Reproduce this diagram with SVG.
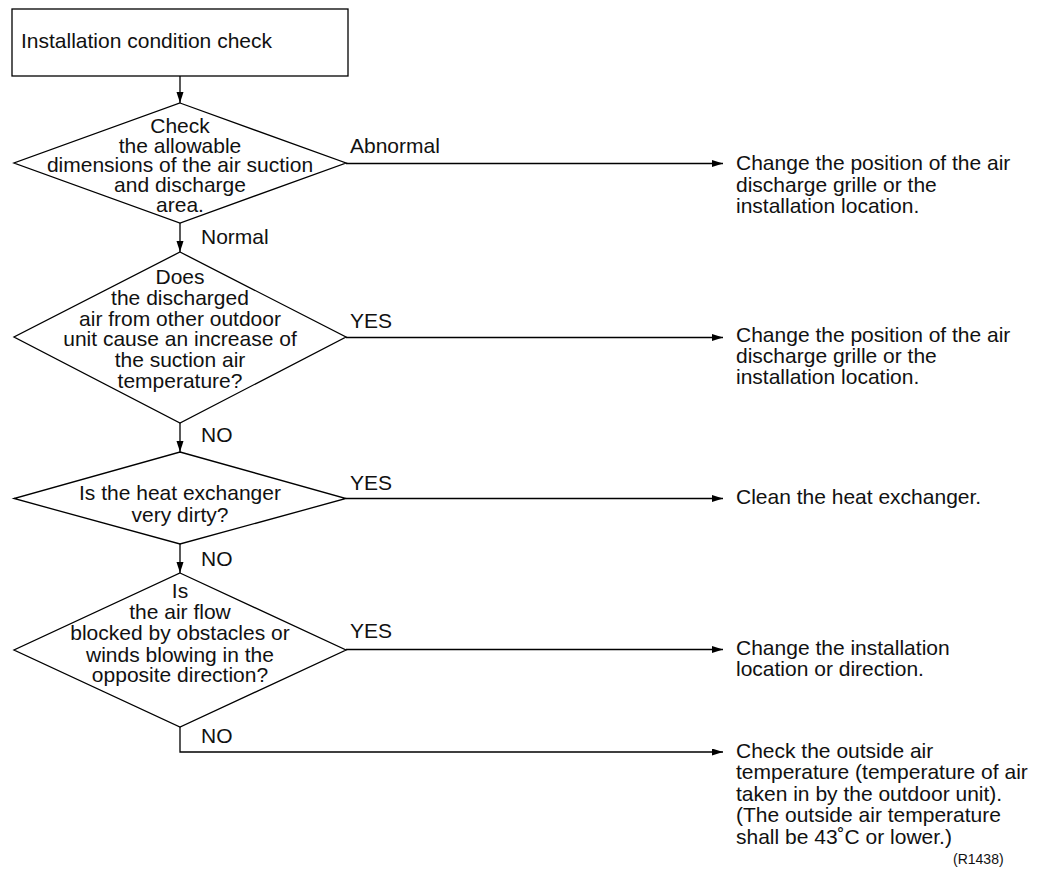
<svg xmlns="http://www.w3.org/2000/svg" width="1041" height="873" viewBox="0 0 1041 873">
<style>
.shape{fill:#fff;stroke:#000;stroke-width:1.3}
.t{font-family:"Liberation Sans",Arial,sans-serif;font-size:21px;fill:#111}
.c{text-anchor:middle}
.ln{fill:none;stroke:#000;stroke-width:1.3}
.sm{font-family:"Liberation Sans",Arial,sans-serif;font-size:14px;fill:#111}
</style>
<defs>
<marker id="ah" markerUnits="userSpaceOnUse" markerWidth="12" markerHeight="8" refX="11" refY="3.5" orient="auto">
<path d="M0,0 L11,3.5 L0,7 Z" fill="#000"/>
</marker>
</defs>
<rect width="1041" height="873" fill="#fff"/>
<g id="start">
<rect class="shape" x="12" y="9" width="336" height="67"/>
<text class="t" x="21" y="48">Installation condition check</text>
</g>
<g id="d1">
<polygon class="shape" points="180,103 346,163 180,223 14,163"/>
<text class="t c" x="180" y="133">Check</text>
<text class="t c" x="180" y="153">the allowable</text>
<text class="t c" x="180" y="172">dimensions of the air suction</text>
<text class="t c" x="180" y="192">and discharge</text>
<text class="t c" x="180" y="212">area.</text>
</g>
<g id="d2">
<polygon class="shape" points="180,252 346,337 180,423 14,337"/>
<text class="t c" x="180" y="283.5">Does</text>
<text class="t c" x="180" y="304.5">the discharged</text>
<text class="t c" x="180" y="325.5">air from other outdoor</text>
<text class="t c" x="180" y="346">unit cause an increase of</text>
<text class="t c" x="180" y="367">the suction air</text>
<text class="t c" x="180" y="388">temperature?</text>
</g>
<g id="d3">
<polygon class="shape" points="180,452 346,498.5 180,544 14,498.5"/>
<text class="t c" x="180" y="499.5">Is the heat exchanger</text>
<text class="t c" x="180" y="521.5">very dirty?</text>
</g>
<g id="d4">
<polygon class="shape" points="180,573 346,650 180,727 14,650"/>
<text class="t c" x="180" y="598">Is</text>
<text class="t c" x="180" y="618.5">the air flow</text>
<text class="t c" x="180" y="640">blocked by obstacles or</text>
<text class="t c" x="180" y="661.5">winds blowing in the</text>
<text class="t c" x="180" y="682">opposite direction?</text>
</g>
<g id="r1">
<text class="t" x="736" y="170">Change the position of the air</text>
<text class="t" x="736" y="191.5">discharge grille or the</text>
<text class="t" x="736" y="212.5">installation location.</text>
</g>
<g id="r2">
<text class="t" x="736" y="342">Change the position of the air</text>
<text class="t" x="736" y="363">discharge grille or the</text>
<text class="t" x="736" y="384">installation location.</text>
</g>
<g id="r3">
<text class="t" x="736" y="503.5">Clean the heat exchanger.</text>
</g>
<g id="r4">
<text class="t" x="736" y="655">Change the installation</text>
<text class="t" x="736" y="676">location or direction.</text>
</g>
<g id="r5">
<text class="t" x="736" y="757.5">Check the outside air</text>
<text class="t" x="736" y="779">temperature (temperature of air</text>
<text class="t" x="736" y="800.5">taken in by the outdoor unit).</text>
<text class="t" x="736" y="822">(The outside air temperature</text>
<text class="t" x="736" y="843.5">shall be 43˚C or lower.)</text>
</g>
<g id="connectors">
<line class="ln" x1="180" y1="76" x2="180" y2="103" marker-end="url(#ah)"/>
<line class="ln" x1="180" y1="223" x2="180" y2="252" marker-end="url(#ah)"/>
<line class="ln" x1="180" y1="423" x2="180" y2="452" marker-end="url(#ah)"/>
<line class="ln" x1="180" y1="544" x2="180" y2="573" marker-end="url(#ah)"/>
<line class="ln" x1="346" y1="163.5" x2="723" y2="163.5" marker-end="url(#ah)"/>
<line class="ln" x1="346" y1="337.5" x2="723" y2="337.5" marker-end="url(#ah)"/>
<line class="ln" x1="346" y1="498.5" x2="723" y2="498.5" marker-end="url(#ah)"/>
<line class="ln" x1="346" y1="649.5" x2="723" y2="649.5" marker-end="url(#ah)"/>
<polyline class="ln" points="180,727 180,752 723,752" marker-end="url(#ah)"/>
<text class="t" x="350" y="153">Abnormal</text>
<text class="t" x="201" y="244">Normal</text>
<text class="t" x="350" y="327.5">YES</text>
<text class="t" x="201" y="442">NO</text>
<text class="t" x="350" y="490">YES</text>
<text class="t" x="201" y="566">NO</text>
<text class="t" x="350" y="637.5">YES</text>
<text class="t" x="201" y="743">NO</text>
</g>
<text class="sm" x="953" y="864">(R1438)</text>
</svg>
